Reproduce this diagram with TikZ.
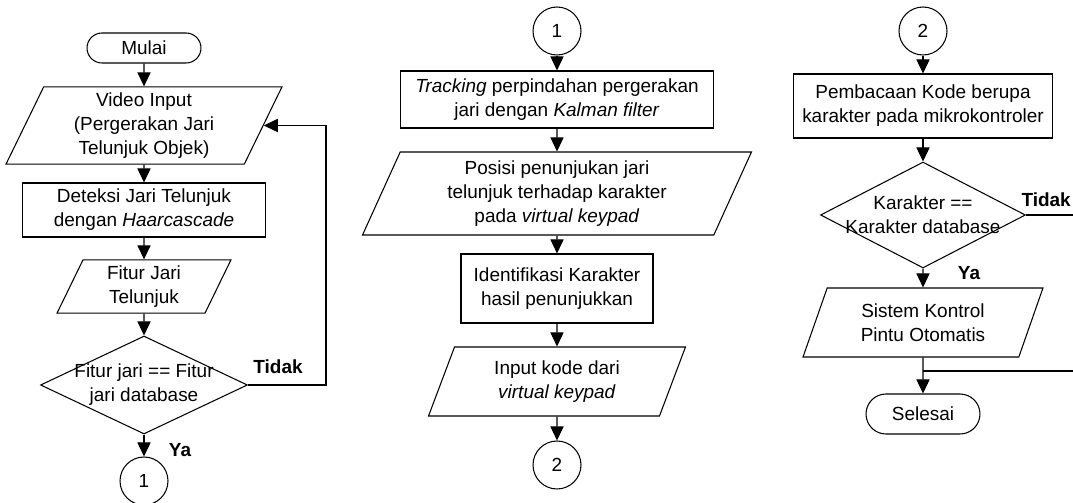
\documentclass[tikz,border=0pt]{standalone}
\usepackage{fontspec}
\setmainfont{Liberation Sans}
\usepackage{tikz}
\usetikzlibrary{shapes.geometric, arrows.meta, positioning, calc}

\begin{document}
\begin{tikzpicture}[x=0.02cm, y=-0.02cm, line width=0.6pt,
        every node/.style={font=\fontsize{10.8}{13.6}\selectfont},
        proc/.style={rectangle, draw, align=center, inner sep=2pt},
        io/.style={trapezium, trapezium left angle=64, trapezium right angle=116,
                   trapezium stretches body=true, draw, align=center, inner xsep=0pt},
        term/.style={rectangle, draw, minimum width=2.28cm},
        dec/.style={diamond, draw, inner sep=0pt},
        conn/.style={circle, draw, minimum size=0.96cm, inner sep=0pt},
        flow/.style={-{Triangle[length=8pt, width=7.5pt]}},
        lbl/.style={font=\fontsize{10.8}{13.6}\selectfont\bfseries}]
    \useasboundingbox (0,0) rectangle (1073,503);

    % Column 1
    \node[term, minimum height=0.6cm, rounded corners=0.3cm] (mulai) at (144,48) {Mulai};
    \node[io, minimum width=5.52cm, minimum height=1.5cm] (video) at (144,125.5)
        {Video Input\\(Pergerakan Jari\\Telunjuk Objek)};
    \node[proc, minimum width=4.86cm, minimum height=1.08cm] (deteksi) at (144,210)
        {Deteksi Jari Telunjuk\\dengan \textit{Haarcascade}};
    \node[io, minimum width=3.48cm, minimum height=1.06cm] (fitur) at (144,286.5)
        {Fitur Jari\\Telunjuk};
    \node[dec, minimum width=4.14cm, minimum height=1.96cm] (cekjari) at (144,385) {};
    \node[align=center] (cekjaritxt) at (cekjari) {Fitur jari == Fitur\\jari database};
    \node[conn] (satuA) at (144,481) {1};
    \node[lbl] (yaA) at (180,450) {Ya};
    \node[lbl] (tidakA) at (278,367) {Tidak};
    \coordinate (balikA) at (326,385);

    \draw[flow] (mulai) -- (video);
    \draw[flow] (video) -- (deteksi);
    \draw[flow] (deteksi) -- (fitur);
    \draw[flow] (fitur) -- (cekjari);
    \draw[flow] (cekjari) -- (satuA);
    \draw[flow] (cekjari.east) -- (balikA) |- (video.east);

    % Column 2
    \node[conn] (satuB) at (557,31) {1};
    \node[proc, minimum width=6.26cm, minimum height=1.14cm] (tracking) at (557,99.5)
        {\textit{Tracking} perpindahan pergerakan\\jari dengan \textit{Kalman filter}};
    \node[io, minimum width=7.78cm, minimum height=1.66cm] (posisi) at (557,193.5)
        {Posisi penunjukan jari\\telunjuk terhadap karakter\\pada \textit{virtual keypad}};
    \node[proc, minimum width=3.84cm, minimum height=1.38cm] (identifikasi) at (557,288.5)
        {Identifikasi Karakter\\hasil penunjukkan};
    \node[io, minimum width=5.14cm, minimum height=1.38cm] (inputkode) at (557,381.5)
        {Input kode dari\\\textit{virtual keypad}};
    \node[conn] (duaA) at (557,465) {2};

    \draw[flow] (satuB) -- (tracking);
    \draw[flow] (tracking) -- (posisi);
    \draw[flow] (posisi) -- (identifikasi);
    \draw[flow] (identifikasi) -- (inputkode);
    \draw[flow] (inputkode) -- (duaA);

    % Column 3
    \node[conn] (duaB) at (923,31) {2};
    \node[proc, minimum width=5.18cm, minimum height=1.28cm] (pembacaan) at (923,106)
        {Pembacaan Kode berupa\\karakter pada mikrokontroler};
    \node[dec, minimum width=4.1cm, minimum height=2.12cm] (cekkar) at (923,215) {};
    \node[align=center] (cekkartxt) at (cekkar) {Karakter ==\\Karakter database};
    \node[io, minimum width=4.8cm, minimum height=1.38cm] (sistem) at (923,322.5)
        {Sistem Kontrol\\Pintu Otomatis};
    \node[term, minimum height=0.8cm, rounded corners=0.4cm] (selesai) at (923,414) {Selesai};
    \node[lbl] (yaB) at (969,273) {Ya};
    \node[lbl, anchor=east, inner xsep=1pt] (tidakB) at (1073,200) {Tidak};
    \coordinate (tepiA) at (1073,215);
    \coordinate (tepiB) at (1073,371);
    \coordinate (gabung) at (923,371);

    \draw[flow] (duaB) -- (pembacaan);
    \draw[flow] (pembacaan) -- (cekkar);
    \draw[flow] (cekkar) -- (sistem);
    \draw[flow] (sistem) -- (selesai);
    \draw (cekkar.east) -- (tepiA);
    \draw (tepiB) -- (gabung);
\end{tikzpicture}
\end{document}
